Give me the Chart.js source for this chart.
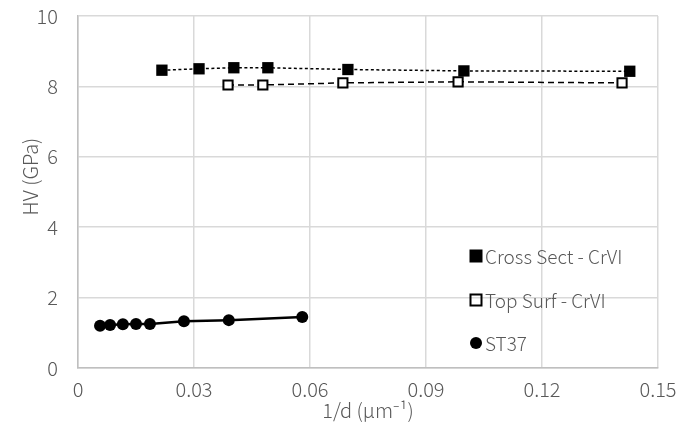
<!DOCTYPE html>
<html lang="en">
<head>
  <meta charset="UTF-8" />
  <title>HV vs 1/d</title>
  <script src="https://cdn.jsdelivr.net/npm/chart.js"></script>
  <style>
    body { margin: 0; background: #fff; }
    .wrap { width: 679px; height: 434px; }
  </style>
</head>
<body>
  <div class="wrap"><canvas id="hvChart"></canvas></div>
  <script>
    // values
    const crossX = [0.0217, 0.0313, 0.0403, 0.0491, 0.0698, 0.0998, 0.1427];
    const crossY = [8.46, 8.50, 8.53, 8.53, 8.48, 8.44, 8.43];
    const topX = [0.0388, 0.0478, 0.0685, 0.0983, 0.1407];
    const topY = [8.04, 8.04, 8.10, 8.13, 8.10];
    const stX = [0.0057, 0.0083, 0.0116, 0.0150, 0.0186, 0.0274, 0.0390, 0.0580];
    const stY = [1.20, 1.22, 1.24, 1.25, 1.25, 1.33, 1.36, 1.45];
    const seriesNames = ['Cross Sect - CrVI', 'Top Surf - CrVI', 'ST37'];
    const xTicks = [0, 0.03, 0.06, 0.09, 0.12, 0.15];
    const yTicks = [0, 2, 4, 6, 8, 10];

    const FONT = "'Noto Sans CJK SC', 'Noto Sans', sans-serif";
    const GREY = '#595959';

    const pts = (xs, ys) => xs.map((x, i) => ({ x: x, y: ys[i] }));

    // legend drawn inside the plot, at the lower right
    const insideLegend = {
      id: 'insideLegend',
      afterDraw(chart) {
        const c = chart.ctx;
        const cx = 476, rows = [256, 300, 343];
        c.save();
        c.font = "300 19px " + FONT;
        c.textBaseline = 'middle';
        rows.forEach((y, i) => {
          c.fillStyle = '#000';
          if (i === 0) {
            c.fillRect(cx - 6.5, y - 6.5, 13, 13);
          } else if (i === 1) {
            c.lineWidth = 2;
            c.strokeStyle = '#000';
            c.strokeRect(cx - 5.5, y - 5.5, 11, 11);
          } else {
            c.beginPath();
            c.arc(cx, y, 6, 0, Math.PI * 2);
            c.fill();
          }
          c.fillStyle = GREY;
          c.fillText(chart.data.datasets[i].label, cx + 9, y + 1);
        });
        c.restore();
      }
    };

    const tickFont = { family: FONT, size: 20, weight: '300' };

    new Chart(document.getElementById('hvChart'), {
      type: 'scatter',
      data: {
        datasets: [
          {
            label: seriesNames[0],
            data: pts(crossX, crossY),
            showLine: true,
            borderColor: '#000',
            borderWidth: 1.5,
            borderDash: [3, 2.5],
            pointStyle: 'rect',
            pointRadius: 8,
            pointBackgroundColor: '#000',
            pointBorderColor: '#000',
            pointBorderWidth: 0
          },
          {
            label: seriesNames[1],
            data: pts(topX, topY),
            showLine: true,
            borderColor: '#000',
            borderWidth: 1.5,
            borderDash: [6, 4],
            pointStyle: 'rect',
            pointRadius: 6.5,
            pointBackgroundColor: '#fff',
            pointBorderColor: '#000',
            pointBorderWidth: 2
          },
          {
            label: seriesNames[2],
            data: pts(stX, stY),
            showLine: true,
            borderColor: '#000',
            borderWidth: 2.5,
            pointStyle: 'circle',
            pointRadius: 6,
            pointBackgroundColor: '#000',
            pointBorderColor: '#000',
            pointBorderWidth: 0
          }
        ]
      },
      options: {
        responsive: true,
        maintainAspectRatio: false,
        animation: false,
        layout: { padding: { top: 16, right: 21, left: 0, bottom: 12 } },
        plugins: {
          legend: { display: false },
          tooltip: { enabled: false }
        },
        scales: {
          x: {
            type: 'linear',
            min: 0,
            max: 0.15,
            afterBuildTicks: s => { s.ticks = xTicks.map(v => ({ value: v })); },
            afterFit: s => { s.height = 54; s.paddingLeft = 0; s.paddingRight = 0; },
            grid: { color: '#d9d9d9', lineWidth: 1.5, drawTicks: false },
            border: { color: '#bfbfbf', width: 1.5 },
            ticks: {
              color: GREY,
              font: tickFont,
              padding: 9,
              maxRotation: 0,
              callback: v => String(v)
            },
            title: {
              display: true,
              text: '1/d (μm⁻¹)',
              color: GREY,
              font: tickFont,
              padding: { top: 0, bottom: 0 }
            }
          },
          y: {
            min: 0,
            max: 10,
            afterBuildTicks: s => { s.ticks = yTicks.map(v => ({ value: v })); },
            afterFit: s => { s.width = 78; s.paddingTop = 0; s.paddingBottom = 0; },
            grid: { color: '#d9d9d9', lineWidth: 1.5, drawTicks: false },
            border: { color: '#bfbfbf', width: 1.5 },
            ticks: {
              color: GREY,
              font: tickFont,
              padding: 20
            },
            title: {
              display: true,
              text: '       HV (GPa)',
              color: GREY,
              font: tickFont,
              padding: { top: 18, bottom: 0 }
            }
          }
        }
      },
      plugins: [insideLegend]
    });
  </script>
</body>
</html>
